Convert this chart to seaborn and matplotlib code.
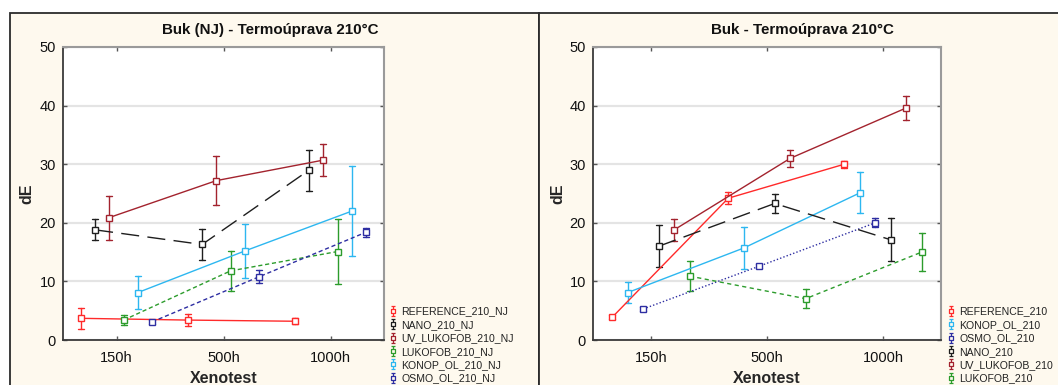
import numpy as np
import pandas as pd
import matplotlib
matplotlib.use("Agg")
import matplotlib.pyplot as plt
import seaborn as sns
from matplotlib.patches import Rectangle
from matplotlib.lines import Line2D
from matplotlib.path import Path

# ---------------- data ----------------
times = ["150h", "500h", "1000h"]

# left panel: Buk (NJ)
left_series = ["REFERENCE_210_NJ", "NANO_210_NJ", "UV_LUKOFOB_210_NJ",
               "LUKOFOB_210_NJ", "KONOP_OL_210_NJ", "OSMO_OL_210_NJ"]
nj_reference = [3.7, 3.4, 3.2]
nj_reference_err = [1.8, 1.0, 0.5]
nj_nano = [18.8, 16.3, 29.0]
nj_nano_err = [1.8, 2.7, 3.5]
nj_uv_lukofob = [20.9, 27.2, 30.7]
nj_uv_lukofob_err = [3.75, 4.2, 2.7]
nj_lukofob = [3.4, 11.8, 15.1]
nj_lukofob_err = [0.9, 3.4, 5.5]
nj_konop = [8.1, 15.2, 22.0]
nj_konop_err = [2.8, 4.6, 7.7]
nj_osmo = [3.1, 10.8, 18.4]
nj_osmo_err = [0.3, 1.1, 0.75]

# right panel: Buk
right_series = ["REFERENCE_210", "KONOP_OL_210", "OSMO_OL_210",
                "NANO_210", "UV_LUKOFOB_210", "LUKOFOB_210"]
b_reference = [3.9, 24.2, 30.0]
b_reference_err = [0.4, 1.0, 0.6]
b_konop = [8.1, 15.7, 25.1]
b_konop_err = [1.8, 3.6, 3.5]
b_osmo = [5.3, 12.6, 20.0]
b_osmo_err = [0.4, 0.3, 0.8]
b_nano = [16.0, 23.3, 17.1]
b_nano_err = [3.55, 1.6, 3.65]
b_uv_lukofob = [18.8, 31.0, 39.6]
b_uv_lukofob_err = [1.9, 1.5, 2.0]
b_lukofob = [10.9, 7.05, 15.0]
b_lukofob_err = [2.6, 1.6, 3.3]

# ---------------- styles ----------------
C_RED = "#FF2A2A"
C_BLACK = "#1E1E1E"
C_DRED = "#A3232E"
C_GREEN = "#2C9C2C"
C_LBLUE = "#2DB7F0"
C_DBLUE = "#2E2EA2"

left_colors = [C_RED, C_BLACK, C_DRED, C_GREEN, C_LBLUE, C_DBLUE]
left_styles = ["-", (0, (13, 6)), "-", (0, (3, 2)), "-", (0, (3, 2))]
right_colors = [C_RED, C_LBLUE, C_DBLUE, C_BLACK, C_DRED, C_GREEN]
right_styles = ["-", "-", (0, (1, 1.5)), (0, (13, 6)), "-", (0, (3, 2.5))]

BG = "#FEF9EE"

# legend glyph: error bar with caps and a small square
_v = [(-0.45, 1.0), (0.45, 1.0), (0.0, 1.0), (0.0, 0.38),
      (-0.38, 0.38), (0.38, 0.38), (0.38, -0.38), (-0.38, -0.38), (-0.38, 0.38),
      (0.0, -0.38), (0.0, -1.0), (-0.45, -1.0), (0.45, -1.0)]
_c = [Path.MOVETO, Path.LINETO, Path.MOVETO, Path.LINETO,
      Path.MOVETO, Path.LINETO, Path.LINETO, Path.LINETO, Path.LINETO,
      Path.MOVETO, Path.LINETO, Path.MOVETO, Path.LINETO]
ERR_GLYPH = Path(_v, _c)


def build_frame(names, means, errs):
    rows = []
    for name, m_list, e_list in zip(names, means, errs):
        for t, m, e in zip(times, m_list, e_list):
            for v in (m - e, m, m + e):
                rows.append({"series": name, "time": t, "dE": v})
    return pd.DataFrame(rows)


left_df = build_frame(
    left_series,
    [nj_reference, nj_nano, nj_uv_lukofob, nj_lukofob, nj_konop, nj_osmo],
    [nj_reference_err, nj_nano_err, nj_uv_lukofob_err, nj_lukofob_err,
     nj_konop_err, nj_osmo_err])
right_df = build_frame(
    right_series,
    [b_reference, b_konop, b_osmo, b_nano, b_uv_lukofob, b_lukofob],
    [b_reference_err, b_konop_err, b_osmo_err, b_nano_err,
     b_uv_lukofob_err, b_lukofob_err])

sns.set_style("white")
plt.rcParams["font.family"] = ["Liberation Sans", "DejaVu Sans"]

W, H = 1058, 385
fig = plt.figure(figsize=(W / 100, H / 100), dpi=100)
fig.patch.set_facecolor("white")

# panel backgrounds with borders
fig.add_artist(Rectangle((10 / W, -0.2), (539 - 10) / W, (H - 13) / H + 0.2,
                         transform=fig.transFigure, fc=BG, ec="#2B2B2B",
                         lw=1.3, zorder=-5))
fig.add_artist(Rectangle((539 / W, -0.2), 0.6, (H - 13) / H + 0.2,
                         transform=fig.transFigure, fc=BG, ec="#2B2B2B",
                         lw=1.3, zorder=-5))

ax_l = fig.add_axes([63 / W, 45 / H, (384 - 63) / W, (340 - 47) / H])
ax_r = fig.add_axes([593 / W, 45 / H, (941 - 593) / W, (340 - 47) / H])


def draw_panel(ax, df, names, colors, styles, title, title_x, ylab_x,
               legend_x, capsize):
    sns.pointplot(data=df, x="time", y="dE", hue="series", order=times,
                  hue_order=names, palette=colors, estimator="median",
                  errorbar=("pi", 100), dodge=0.667, markers=["s"] * 6,
                  linestyles=styles, capsize=capsize,
                  err_kws={"linewidth": 1.0, "linestyle": "-"},
                  linewidth=1.0, markersize=4.8, markeredgewidth=1.0,
                  legend=False, ax=ax)
    for ln in ax.lines:
        if ln.get_marker() == "s":
            ln.set_markerfacecolor("white")
            ln.set_zorder(4)
    ax.set_facecolor("white")
    ax.set_xlim(-0.5, 2.5)
    ax.set_ylim(0, 50)
    ax.set_yticks([0, 10, 20, 30, 40, 50])
    ax.yaxis.grid(True, color="#E4E4E4", lw=1.6)
    ax.set_axisbelow(True)
    for side in ("left", "bottom"):
        ax.spines[side].set_color("#3A3A3A")
        ax.spines[side].set_linewidth(1.3)
    for side in ("top", "right"):
        ax.spines[side].set_color("#9A9A9A")
        ax.spines[side].set_linewidth(1.5)
        ax.spines[side].set_visible(True)
    ax.tick_params(axis="both", direction="in", length=3, width=1,
                   color="#555555", labelsize=10.5, labelcolor="#111111",
                   top=True, right=True, left=True, bottom=True)
    ax.tick_params(axis="x", pad=8)
    ax.tick_params(axis="y", pad=5)
    ax.set_xlabel("Xenotest", fontsize=11.5, fontweight="bold")
    ax.xaxis.set_label_coords(0.5, -0.105)
    ax.set_ylabel("dE", fontsize=11.5, fontweight="bold")
    ax.yaxis.set_label_coords(ylab_x, 0.5)
    fig.text(title_x, 1 - 30 / H, title, ha="center", va="center",
             fontsize=10.9, fontweight="bold", color="#111111")

    handles = [Line2D([], [], color=c, marker=ERR_GLYPH, markersize=7.5,
                      markerfacecolor="none", markeredgewidth=0.9,
                      linestyle="none") for c in colors]
    fig.legend(handles, names, loc="upper left",
               bbox_to_anchor=(legend_x, 1 - 306.5 / H),
               frameon=False, fontsize=7.6, handlelength=0.8,
               handletextpad=0.35, labelspacing=0.32, borderpad=0,
               borderaxespad=0, labelcolor="#222222")


draw_panel(ax_l, left_df, left_series, left_colors, left_styles,
           "Buk (NJ) - Termoúprava 210°C", 270 / W, -0.088, 389 / W, 0.055)
draw_panel(ax_r, right_df, right_series, right_colors, right_styles,
           "Buk - Termoúprava 210°C", 802 / W, -0.080, 947 / W, 0.05)

fig.savefig("out.png", dpi=100, facecolor=fig.get_facecolor())
